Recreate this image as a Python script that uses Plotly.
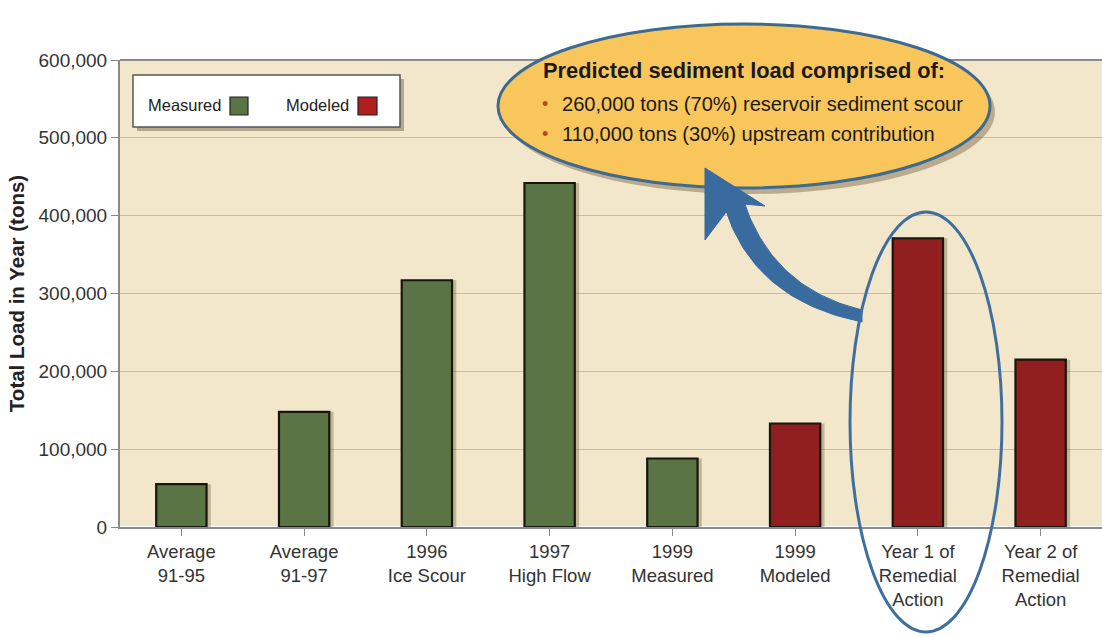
import plotly.graph_objects as go

categories = ["Average<br>91-95", "Average<br>91-97", "1996<br>Ice Scour", "1997<br>High Flow",
              "1999<br>Measured", "1999<br>Modeled", "Year 1 of<br>Remedial<br>Action",
              "Year 2 of<br>Remedial<br>Action"]
loads = [55000, 148000, 317000, 442000, 88000, 133000, 371000, 215000]
kinds = ["Measured", "Measured", "Measured", "Measured", "Measured", "Modeled", "Modeled", "Modeled"]
y_ticks = [0, 100000, 200000, 300000, 400000, 500000, 600000]
callout_title = "Predicted sediment load comprised of:"
callout_lines = ["260,000 tons (70%) reservoir sediment scour", "110,000 tons (30%) upstream contribution"]

GREEN = "#5B7446"
RED = "#921F1F"
color_map = {"Measured": GREEN, "Modeled": RED}
FONT = "Liberation Sans, Arial, Helvetica, sans-serif"

W, H = 1102, 637
L, R, T, B = 120, 0, 60, 110
PW, PH = W - L - R, H - T - B


def px(x):
    return (x - L) / PW


def py(y):
    return (H - B - y) / PH


xs = list(range(len(categories)))
fig = go.Figure()
# soft shadows
fig.add_trace(go.Bar(x=xs, y=loads, width=0.41, offset=-0.205 + 0.035,
                     marker=dict(color="rgba(70,55,30,0.28)", line=dict(width=0)),
                     hoverinfo="skip", showlegend=False))
fig.add_trace(go.Bar(x=xs, y=loads, width=0.41, offset=-0.205,
                     marker=dict(color=[color_map[k] for k in kinds],
                                 line=dict(color="#17160c", width=2.2)),
                     showlegend=False))

fig.update_layout(
    width=W, height=H, barmode="overlay",
    margin=dict(l=L, r=R, t=T, b=B),
    paper_bgcolor="white", plot_bgcolor="#F3E7CB",
    font=dict(family=FONT, size=18, color="#333333"),
    xaxis=dict(tickmode="array", tickvals=xs, ticktext=categories, range=[-0.5, 7.5],
               ticks="outside", tickson="boundaries", ticklen=7, tickcolor="#888",
               showline=True, linecolor="#8a8a8a", linewidth=2, showgrid=False,
               tickfont=dict(size=18.5, color="#333")),
    yaxis=dict(range=[0, 600000], tickvals=y_ticks, tickformat=",",
               ticks="outside", ticklen=7, tickcolor="#888",
               showline=True, linecolor="#8a8a8a", linewidth=2,
               gridcolor="#C8BEA6", gridwidth=1.2,
               tickfont=dict(size=19, color="#333"),
               title=dict(text="<b>Total Load in Year (tons)</b>", standoff=8,
                          font=dict(size=20.5, color="#222"))),
)

shapes = []
annotations = []

# top border line of plot
shapes.append(dict(type="line", xref="paper", yref="paper", x0=0, x1=1, y0=1, y1=1,
                   line=dict(color="#8a8a8a", width=2)))

# Legend box
shapes.append(dict(type="rect", xref="paper", yref="paper", x0=px(137), x1=px(404), y0=py(131), y1=py(79),
                   fillcolor="rgba(60,50,30,0.35)", line=dict(width=0)))
shapes.append(dict(type="rect", xref="paper", yref="paper", x0=px(133), x1=px(400), y0=py(127), y1=py(75),
                   fillcolor="white", line=dict(color="#555", width=1.5)))
shapes.append(dict(type="rect", xref="paper", yref="paper", x0=px(230), x1=px(248), y0=py(115), y1=py(97),
                   fillcolor=GREEN, line=dict(color="#222", width=1.2)))
shapes.append(dict(type="rect", xref="paper", yref="paper", x0=px(358), x1=px(377), y0=py(115), y1=py(97),
                   fillcolor="#B01F1F", line=dict(color="#222", width=1.2)))
annotations.append(dict(text="Measured", xref="paper", yref="paper", x=px(146), y=py(105),
                        xanchor="left", yanchor="middle", showarrow=False,
                        font=dict(size=16.5, color="#222")))
annotations.append(dict(text="Modeled", xref="paper", yref="paper", x=px(284), y=py(105),
                        xanchor="left", yanchor="middle", showarrow=False,
                        font=dict(size=16.5, color="#222")))

# Callout ellipse with shadow
cx, cy, rx, ry = 744, 106, 246, 82
shapes.append(dict(type="circle", xref="paper", yref="paper",
                   x0=px(cx - rx + 5), x1=px(cx + rx + 5), y0=py(cy + ry + 6), y1=py(cy - ry + 6),
                   fillcolor="rgba(80,60,30,0.35)", line=dict(width=0)))
shapes.append(dict(type="circle", xref="paper", yref="paper",
                   x0=px(cx - rx), x1=px(cx + rx), y0=py(cy + ry), y1=py(cy - ry),
                   fillcolor="#F9C65C", line=dict(color="#3F6A90", width=3)))

annotations.append(dict(text="<b>" + callout_title + "</b>", xref="paper", yref="paper",
                        x=px(541), y=py(71), xanchor="left", yanchor="middle", showarrow=False,
                        font=dict(size=21.8, color="#1a1a1a")))
for i, line in enumerate(callout_lines):
    yy = 104 + i * 30
    annotations.append(dict(text="•", xref="paper", yref="paper", x=px(540), y=py(yy),
                            xanchor="left", yanchor="middle", showarrow=False,
                            font=dict(size=18, color="#B0501F")))
    annotations.append(dict(text=line, xref="paper", yref="paper", x=px(560), y=py(yy),
                            xanchor="left", yanchor="middle", showarrow=False,
                            font=dict(size=20.1, color="#1a1a1a")))


def P(x, y):
    return f"{px(x):.5f},{py(y):.5f}"


# Curved arrow shaft (tapered)
shaft = ("M " + P(724, 205) + " Q " + P(752, 300) + " " + P(862, 322)
         + " L " + P(862, 310) + " Q " + P(770, 288) + " " + P(742, 196) + " Z")
shapes.append(dict(type="path", xref="paper", yref="paper", path=shaft,
                   fillcolor="#3A6B9F", line=dict(color="#3A6B9F", width=1)))
head = "M " + P(705, 168) + " L " + P(765, 206) + " L " + P(733, 203) + " L " + P(705, 240) + " Z"
shapes.append(dict(type="path", xref="paper", yref="paper", path=head,
                   fillcolor="#3A6B9F", line=dict(color="#3A6B9F", width=1)))

# Oval around Year 1 bar
shapes.append(dict(type="circle", xref="paper", yref="paper",
                   x0=px(850), x1=px(1002), y0=py(632), y1=py(212),
                   fillcolor="rgba(0,0,0,0)", line=dict(color="#3F6F9E", width=3)))

fig.update_layout(shapes=shapes, annotations=annotations)
fig.write_html("out.html")
